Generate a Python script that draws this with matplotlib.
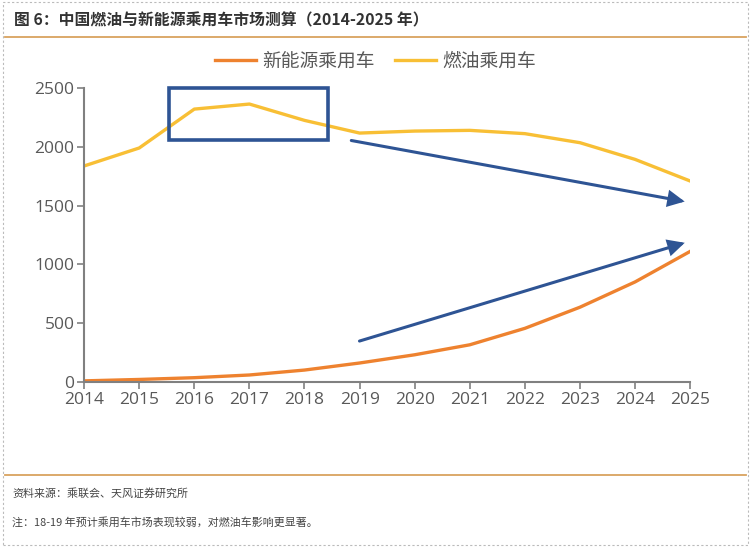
import matplotlib
matplotlib.use("Agg")
import matplotlib.pyplot as plt
from matplotlib.patches import Rectangle, FancyArrowPatch
from matplotlib.lines import Line2D

plt.rcParams["font.family"] = ["Noto Sans CJK SC", "DejaVu Sans"]

# ===== 数据 =====
years = [2014, 2015, 2016, 2017, 2018, 2019, 2020, 2021, 2022, 2023, 2024, 2025]
nev = [8, 20, 35, 58, 100, 160, 230, 315, 455, 635, 850, 1110]
fuel = [1837, 1990, 2321, 2364, 2225, 2117, 2134, 2140, 2112, 2035, 1893, 1709]
yticks = [0, 500, 1000, 1500, 2000, 2500]

title = "图 6：中国燃油与新能源乘用车市场测算（2014-2025 年）"
source = "资料来源：乘联会、天风证券研究所"
note = "注：18-19 年预计乘用车市场表现较弱，对燃油车影响更显著。"

C_NEV = "#EE822F"
C_FUEL = "#F8BF35"
C_BLUE = "#2E5494"
C_LINE = "#D9A35F"

fig = plt.figure(figsize=(7.51, 5.47), dpi=100)

# 外框(虚线)
fig.patches.append(Rectangle((0.004, 0.004), 0.992, 0.992, transform=fig.transFigure,
                             fill=False, ls=(0, (2, 2)), lw=0.8, ec="#BBBBBB"))

fig.text(0.018, 0.962, title, fontsize=11.4, fontweight="bold", color="#333333", va="center")
fig.add_artist(Line2D([0.006, 0.994], [0.932, 0.932], transform=fig.transFigure, color=C_LINE, lw=1.3))
fig.add_artist(Line2D([0.006, 0.994], [0.132, 0.132], transform=fig.transFigure, color=C_LINE, lw=1.3))
fig.text(0.016, 0.098, source, fontsize=7.9, color="#444444", va="center")
fig.text(0.016, 0.045, note, fontsize=7.9, color="#444444", va="center")

ax = fig.add_axes([0.112, 0.302, 0.807, 0.537])
ax.plot(years, nev, color=C_NEV, lw=2.4, label="新能源乘用车", solid_joinstyle="round")
ax.plot(years, fuel, color=C_FUEL, lw=2.4, label="燃油乘用车", solid_joinstyle="round")

ax.set_xlim(2014, 2025)
ax.set_ylim(0, 2500)
ax.set_xticks(years)
ax.set_yticks(yticks)
ax.tick_params(colors="#808080", labelcolor="#595959", labelsize=12.5, length=5, width=1.2, pad=2)
for lab in ax.get_xticklabels() + ax.get_yticklabels():
    lab.set_family(["Open Sans", "DejaVu Sans"])
for s in ["top", "right"]:
    ax.spines[s].set_visible(False)
for s in ["left", "bottom"]:
    ax.spines[s].set_color("#808080")
    ax.spines[s].set_linewidth(1.5)
ax.patch.set_alpha(0)

# 标注框与箭头
ax.add_patch(Rectangle((2015.54, 2058), 2018.43 - 2015.54, 2500 - 2058, fill=False,
                       ec=C_BLUE, lw=2.6, clip_on=False, zorder=5))
for (x0, y0), (x1, y1) in [((2018.8, 2058), (2024.95, 1530)),
                           ((2018.95, 340), (2024.95, 1190))]:
    ax.add_patch(FancyArrowPatch((x0, y0), (x1, y1), arrowstyle="-|>,head_length=9,head_width=4.5",
                                 fc=C_BLUE, ec=C_BLUE, lw=2.2, mutation_scale=1, joinstyle="miter",
                                 clip_on=False, zorder=5))

fig.legend(loc="center", bbox_to_anchor=(0.5, 0.888), ncol=2, frameon=False, fontsize=13.5,
           handlelength=2.2, columnspacing=1.1, handletextpad=0.3, labelcolor="#595959")

fig.savefig("out.png", dpi=100)
